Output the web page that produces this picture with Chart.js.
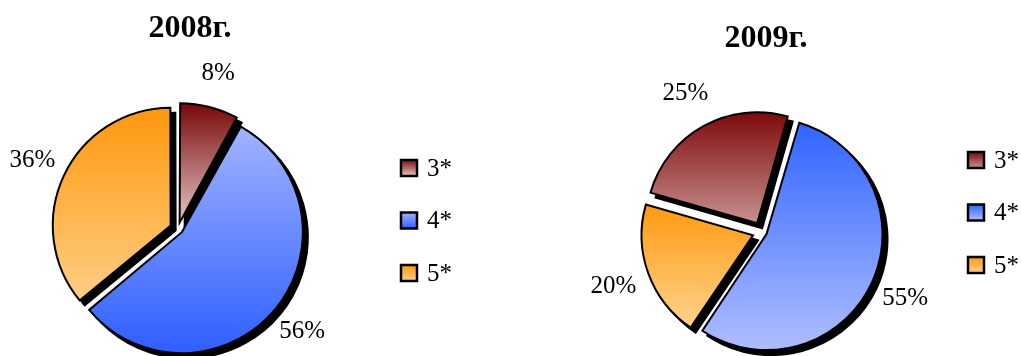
<!DOCTYPE html>
<html>
<head>
<meta charset="utf-8">
<script src="https://cdn.jsdelivr.net/npm/chart.js@4.4.1/dist/chart.umd.min.js"></script>
<style>
  html, body { margin: 0; padding: 0; background: #fff; font-family: "Liberation Serif", serif; }
  .pie-box { position: absolute; top: 0; height: 356px; }
  #box2008 { left: 0; width: 510px; }
  #box2009 { left: 510px; width: 511px; }
</style>
</head>
<body>
<div class="pie-box" id="box2008"><canvas id="pie2008"></canvas></div>
<div class="pie-box" id="box2009"><canvas id="pie2009"></canvas></div>
<script>
// data
const CATEGORIES = ['3*', '4*', '5*'];
const VALUES_2008 = [8, 56, 36];
const VALUES_2009 = [25, 55, 20];
const TITLE_2008 = '2008г.';
const TITLE_2009 = '2009г.';

// gradient colours per slice: [top, bottom]
const GRAD_2008 = [['#7b0c0c', '#e5c6c6'], ['#9fb2ff', '#3060ff'], ['#ff9810', '#ffce82']];
const GRAD_2009 = [['#7d0a0a', '#c89090'], ['#3366ff', '#acbcff'], ['#ff9a10', '#ffd28c']];

const SERIF = '"Liberation Serif", "Times New Roman", serif';
const EXPLODE = 10;
const SHADOW = 5;

function sliceAngles(values, idx, rotation) {
  const total = values.reduce((a, b) => a + b, 0);
  let start = (rotation - 90) * Math.PI / 180;
  for (let i = 0; i < idx; i++) start += values[i] / total * 2 * Math.PI;
  return { start, end: start + values[idx] / total * 2 * Math.PI };
}

// vertical gradient spanning just the slice's own height
function sliceGradient(ctx, grads, rotation, radius) {
  const chart = ctx.chart;
  const area = chart.chartArea;
  const g = grads[ctx.dataIndex];
  if (!area) return g[1];
  const { start, end } = sliceAngles(ctx.dataset.data, ctx.dataIndex, rotation);
  const ys = [0, Math.sin(start), Math.sin(end)];
  [-Math.PI / 2, Math.PI / 2].forEach(a => {
    for (let k = -2; k <= 2; k++) {
      const t = a + k * 2 * Math.PI;
      if (t > start && t < end) ys.push(Math.sin(t));
    }
  });
  const cy = (area.top + area.bottom) / 2;
  const top = cy + radius * Math.min(...ys);
  const bottom = cy + radius * Math.max(...ys);
  const grad = chart.ctx.createLinearGradient(0, top, 0, bottom);
  grad.addColorStop(0, g[0]);
  grad.addColorStop(1, g[1]);
  return grad;
}

// chart.js moves an arc by offset/4 * (1 + fix); solve so every slice is pulled out equally
function explodeOffset(ctx) {
  const data = ctx.dataset.data;
  const total = data.reduce((a, b) => a + b, 0);
  const circ = data[ctx.dataIndex] / total * 2 * Math.PI;
  const fix = 1 - Math.sin(Math.min(Math.PI, circ));
  return 4 * EXPLODE / (1 + fix);
}

// solid black drop shadow: draw the arcs far off-canvas and let only the shadow land
const shadowPlugin = {
  id: 'sliceShadow',
  beforeDatasetsDraw(chart) {
    const c = chart.ctx;
    const far = 4000;
    c.save();
    c.shadowColor = '#000';
    c.shadowOffsetX = far + SHADOW;
    c.shadowOffsetY = SHADOW;
    c.shadowBlur = 0;
    c.translate(-far, 0);
    chart.getDatasetMeta(0).data.forEach(arc => arc.draw(c));
    c.restore();
  }
};

const decoPlugin = {
  id: 'deco',
  afterDraw(chart, args, opts) {
    const c = chart.ctx;
    const meta = chart.getDatasetMeta(0);
    const values = chart.data.datasets[0].data;
    c.save();
    c.fillStyle = '#000';

    // title
    c.font = 'bold 32px ' + SERIF;
    c.textAlign = 'center';
    c.textBaseline = 'alphabetic';
    c.fillText(opts.title, opts.titleX, opts.titleY);

    // percentage labels
    c.font = '25px ' + SERIF;
    c.textBaseline = 'middle';
    meta.data.forEach((arc, i) => {
      const p = arc.getProps(['x', 'y', 'startAngle', 'endAngle', 'outerRadius'], true);
      const mid = (p.startAngle + p.endAngle) / 2;
      const d = p.outerRadius + opts.labelGap;
      c.fillText(values[i] + '%', p.x + Math.cos(mid) * d, p.y + Math.sin(mid) * d);
    });

    // legend
    c.textAlign = 'left';
    chart.data.labels.forEach((lab, i) => {
      const y = opts.legendY + i * opts.legendStep;
      const x = opts.legendX;
      const grad = c.createLinearGradient(0, y - 8, 0, y + 8);
      grad.addColorStop(0, opts.grads[i][0]);
      grad.addColorStop(1, opts.grads[i][1]);
      c.fillStyle = grad;
      c.fillRect(x, y - 8, 16, 16);
      c.lineWidth = 2.5;
      c.strokeStyle = '#000';
      c.strokeRect(x, y - 8, 16, 16);
      c.fillStyle = '#000';
      c.fillText(lab, x + 26, y + 1);
    });
    c.restore();
  }
};

function makePie(canvasId, values, grads, cfg) {
  return new Chart(document.getElementById(canvasId), {
    type: 'pie',
    data: {
      labels: CATEGORIES,
      datasets: [{
        data: values,
        backgroundColor: ctx => sliceGradient(ctx, grads, cfg.rotation, cfg.radius),
        borderColor: '#000',
        borderWidth: 2,
        borderJoinStyle: 'miter',
        offset: explodeOffset,
        hoverOffset: 0,
        clip: false,
      }],
    },
    options: {
      responsive: true, maintainAspectRatio: false,
      animation: false, events: [],
      rotation: cfg.rotation,
      radius: cfg.radius,
      layout: { padding: cfg.padding },
      plugins: {
        legend: { display: false },
        title: { display: false },
        tooltip: { enabled: false },
        deco: {
          title: cfg.title, titleX: cfg.titleX, titleY: cfg.titleY,
          labelGap: cfg.labelGap,
          legendX: cfg.legendX, legendY: cfg.legendY, legendStep: 52.5,
          grads,
        },
      },
    },
    plugins: [shadowPlugin, decoPlugin],
  });
}

function drawAll() {
  makePie('pie2008', VALUES_2008, GRAD_2008, {
    rotation: 0, radius: 116,
    padding: { left: 0, right: 154, top: 102, bottom: 0 },
    title: TITLE_2008, titleX: 190, titleY: 37,
    labelGap: 45,
    legendX: 401, legendY: 168,
  });

  makePie('pie2009', VALUES_2009, GRAD_2009, {
    rotation: -74, radius: 111,
    padding: { left: 0, right: 7, top: 108, bottom: 0 },
    title: TITLE_2009, titleX: 256, titleY: 47,
    labelGap: 47,
    legendX: 458, legendY: 160,
  });
}

Promise.all([
  document.fonts.load('25px "Liberation Serif"'),
  document.fonts.load('bold 32px "Liberation Serif"'),
]).catch(() => {}).then(drawAll);
</script>
</body>
</html>
